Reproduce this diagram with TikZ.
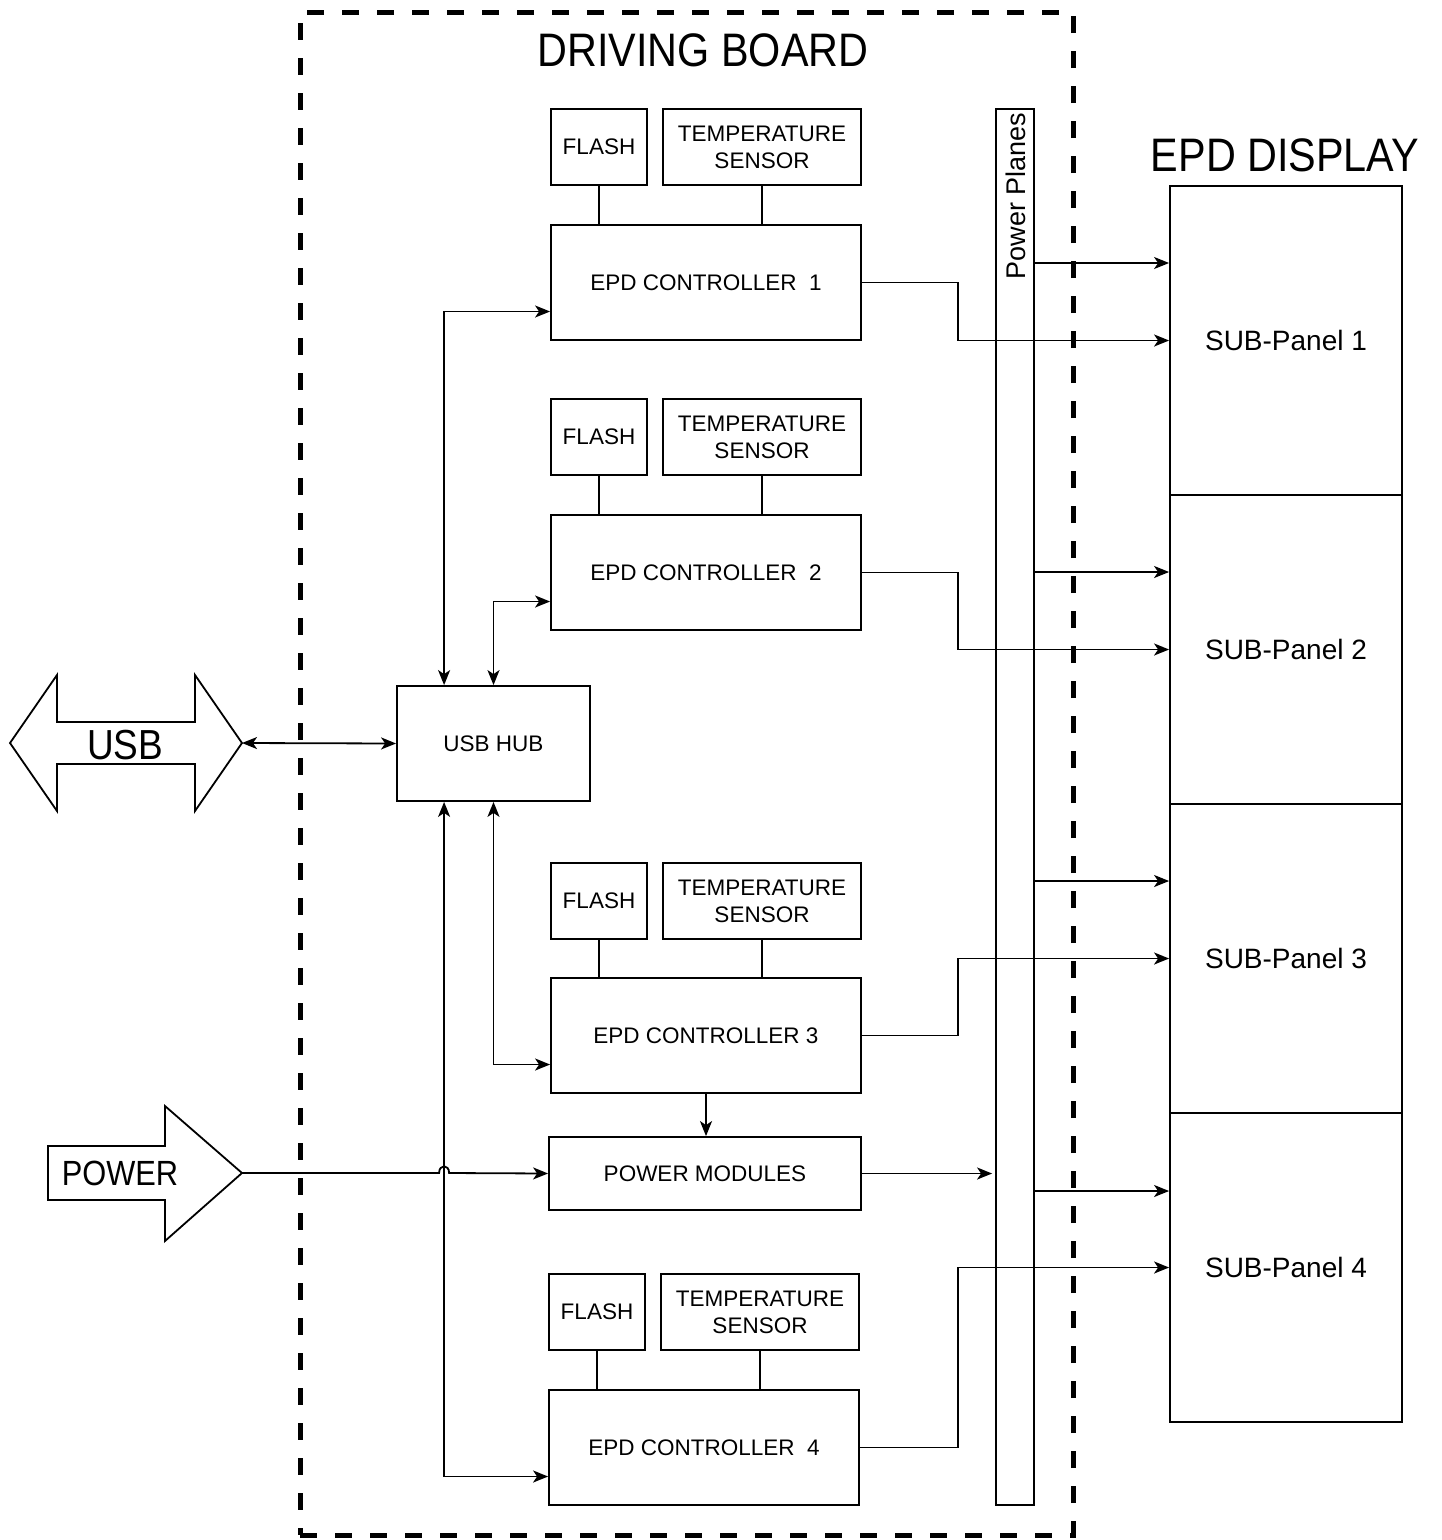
\documentclass[tikz,border=0pt]{standalone}
\usepackage{fontspec}
\setmainfont{Liberation Sans}
\newfontfamily\bigf[FakeStretch=0.88]{Liberation Sans}
\usetikzlibrary{arrows.meta,calc}
\begin{document}
\begin{tikzpicture}[x=1pt,y=-1pt,
  line width=1.8pt,
  box/.style={draw, line width=1.8pt, inner sep=0pt, align=center, font=\fontsize{22.5}{27}\selectfont},
  flashbox/.style={box, minimum width=96pt, minimum height=76pt},
  tempbox/.style={box, minimum width=198pt, minimum height=76pt},
  ctrlbox/.style={box, minimum width=310pt, minimum height=115pt},
  panel/.style={box, minimum width=232pt, minimum height=309pt, font=\fontsize{28}{28}\selectfont},
  arr/.style={-{Stealth[length=15pt,width=12pt,inset=4pt]}},
  darr/.style={{Stealth[length=15pt,width=12pt,inset=4pt]}-{Stealth[length=15pt,width=12pt,inset=4pt]}},
  bigarrow/.style={draw, line width=1.8pt, line join=miter},
  boardframe/.style={draw, line width=5pt, dash pattern=on 17pt off 18pt, inner sep=0pt},
]
\useasboundingbox (0,0) rectangle (1441,1540);

% driving board frame
\node[boardframe, minimum width=773pt, minimum height=1523pt] (board) at (686.5,773.5) {};
\node[font=\bigf\fontsize{47}{47}\selectfont] (boardtitle) at (703,50) {DRIVING BOARD};

% controller groups
\node[flashbox] (f1) at (599,147) {FLASH};
\node[tempbox]  (t1) at (762,147) {TEMPERATURE\\SENSOR};
\node[ctrlbox]  (c1) at (706,282.5) {EPD CONTROLLER~ 1};

\node[flashbox] (f2) at (599,437) {FLASH};
\node[tempbox]  (t2) at (762,437) {TEMPERATURE\\SENSOR};
\node[ctrlbox]  (c2) at (706,572.5) {EPD CONTROLLER~ 2};

\node[flashbox] (f3) at (599,901) {FLASH};
\node[tempbox]  (t3) at (762,901) {TEMPERATURE\\SENSOR};
\node[ctrlbox]  (c3) at (706,1035.5) {EPD CONTROLLER 3};

\node[flashbox] (f4) at (597,1312) {FLASH};
\node[tempbox]  (t4) at (760,1312) {TEMPERATURE\\SENSOR};
\node[ctrlbox]  (c4) at (704,1447.5) {EPD CONTROLLER~ 4};

\foreach \i in {1,2,3,4}{
  \draw (f\i.south) -- (f\i.south |- c\i.north);
  \draw (t\i.south) -- (t\i.south |- c\i.north);
}

% usb hub and power modules
\node[box, minimum width=193pt, minimum height=115pt] (hub) at (493.5,743.5) {USB HUB};
\node[box, minimum width=312pt, minimum height=73pt] (pm) at (705,1173.5) {POWER MODULES};

% power planes
\node[box, minimum width=38pt, minimum height=1396pt] (pp) at (1015,807) {};
\node[rotate=90, anchor=east, inner sep=0pt, font=\fontsize{27}{27}\selectfont] (pptext) at (1016,112) {Power Planes};

% EPD display
\node[font=\bigf\fontsize{47}{47}\selectfont] (disptitle) at (1285,155) {EPD DISPLAY};
\node[panel] (p1) at (1286,340.5) {SUB-Panel 1};
\node[panel] (p2) at (1286,649.5) {SUB-Panel 2};
\node[panel] (p3) at (1286,958.5) {SUB-Panel 3};
\node[panel] (p4) at (1286,1267.5) {SUB-Panel 4};

% USB big arrow
\draw[bigarrow] (10,743) -- (57,675) -- (57,722) -- (195,722) -- (195,675) -- (242,743)
  -- (195,811) -- (195,764) -- (57,764) -- (57,811) -- cycle;
\coordinate (usbtip) at (242,743);
\node[font=\bigf\fontsize{42}{42}\selectfont] (usbl) at (125,745) {USB};

% POWER big arrow
\draw[bigarrow] (48,1146) -- (165,1146) -- (165,1106) -- (242,1173) -- (165,1241)
  -- (165,1200) -- (48,1200) -- cycle;
\coordinate (pwrtip) at (242,1173);
\node[font=\bigf\fontsize{35}{35}\selectfont] (pwrl) at (120,1173) {POWER};

% USB connections
\draw[darr] (usbtip) -- (hub.west);
\draw[darr] ([xshift=48pt]hub.north west) |- ([yshift=-29pt]c1.west);
\draw[darr] (hub.north) |- ([yshift=-29pt]c2.west);
\draw[darr] (hub.south) |- ([yshift=-29pt]c3.west);
\draw[darr] ([xshift=48pt]hub.south west) |- ([yshift=-29pt]c4.west);

% power line with hop
\coordinate (vx) at ([xshift=48pt]hub.south west);
\coordinate (hopc) at (vx |- pwrtip);
\draw[arr] (pwrtip) -- ([xshift=-5pt]hopc) .. controls +(0,-9) and +(0,-9) .. ([xshift=5pt]hopc) -- (pm.west);

\draw[arr] (c3.south) -- (c3.south |- pm.north);
\draw[arr, shorten >=3pt] (pm.east) -- (pm.east -| pp.west);

% controllers to panels
\draw[arr] (c1.east) -- ++(96,0) |- (p1.west);
\draw[arr] (c2.east) -- ++(96,0) |- (p2.west);
\draw[arr] (c3.east) -- ++(96,0) |- (p3.west);
\draw[arr] (c4.east) -- ++(98,0) |- (p4.west);

% power planes to panels
\coordinate (ya) at (0,263);
\coordinate (yb) at (0,572);
\coordinate (yc) at (0,881);
\coordinate (yd) at (0,1191);
\draw[arr] (pp.east |- ya) -- (p1.west |- ya);
\draw[arr] (pp.east |- yb) -- (p2.west |- yb);
\draw[arr] (pp.east |- yc) -- (p3.west |- yc);
\draw[arr] (pp.east |- yd) -- (p4.west |- yd);
\end{tikzpicture}
\end{document}
